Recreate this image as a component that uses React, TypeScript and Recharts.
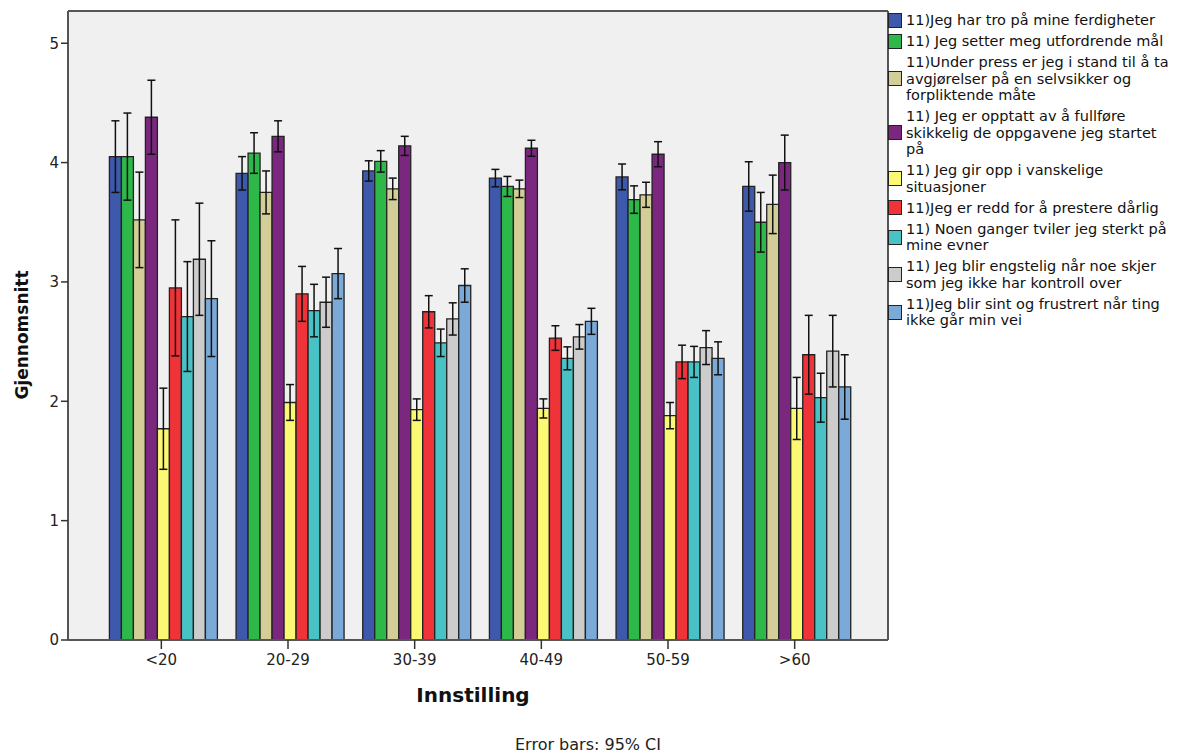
import React from "react";
import {
  BarChart,
  Bar,
  XAxis,
  YAxis,
  CartesianGrid,
  ErrorBar,
} from "recharts";

const groups = ["<20", "20-29", "30-39", "40-49", "50-59", ">60"];

const seriesNames = [
  "11)Jeg har tro på mine ferdigheter",
  "11) Jeg setter meg utfordrende mål",
  "11)Under press er jeg i stand til å ta\navgjørelser på en selvsikker og\nforpliktende måte",
  "11) Jeg er opptatt av å fullføre\nskikkelig de oppgavene jeg startet\npå",
  "11) Jeg gir opp i vanskelige\nsituasjoner",
  "11)Jeg er redd for å prestere dårlig",
  "11) Noen ganger tviler jeg sterkt på\nmine evner",
  "11) Jeg blir engstelig når noe skjer\nsom jeg ikke har kontroll over",
  "11)Jeg blir sint og frustrert når ting\nikke går min vei",
];

const colors = [
  "#3E58AC",
  "#2EB84A",
  "#D3CE98",
  "#7B277F",
  "#FBF874",
  "#EF3338",
  "#48C2C5",
  "#CCCCCC",
  "#7BAAD8",
];

// means per series, one value per age group
const troFerdigheter = [4.05, 3.91, 3.93, 3.87, 3.88, 3.8];
const utfordrendeMal = [4.05, 4.08, 4.01, 3.8, 3.69, 3.5];
const underPress = [3.52, 3.75, 3.78, 3.78, 3.73, 3.65];
const opptattFullfore = [4.38, 4.22, 4.14, 4.12, 4.07, 4.0];
const girOpp = [1.77, 1.99, 1.93, 1.94, 1.88, 1.94];
const reddPrestere = [2.95, 2.9, 2.75, 2.53, 2.33, 2.39];
const tvilerEvner = [2.71, 2.76, 2.49, 2.36, 2.33, 2.03];
const engstelig = [3.19, 2.83, 2.69, 2.54, 2.45, 2.42];
const sintFrustrert = [2.86, 3.07, 2.97, 2.67, 2.36, 2.12];

// 95% CI half widths
const ciTro = [0.3, 0.14, 0.085, 0.073, 0.108, 0.207];
const ciUtfordrende = [0.365, 0.17, 0.09, 0.084, 0.115, 0.25];
const ciPress = [0.4, 0.18, 0.09, 0.073, 0.105, 0.245];
const ciOpptatt = [0.31, 0.13, 0.08, 0.067, 0.105, 0.23];
const ciGirOpp = [0.34, 0.15, 0.09, 0.08, 0.11, 0.26];
const ciRedd = [0.57, 0.23, 0.135, 0.103, 0.14, 0.33];
const ciTviler = [0.46, 0.22, 0.115, 0.096, 0.13, 0.205];
const ciEngstelig = [0.47, 0.21, 0.135, 0.103, 0.142, 0.3];
const ciSint = [0.485, 0.21, 0.14, 0.109, 0.138, 0.27];

const yTicks = [0, 1, 2, 3, 4, 5];

const means = [
  troFerdigheter,
  utfordrendeMal,
  underPress,
  opptattFullfore,
  girOpp,
  reddPrestere,
  tvilerEvner,
  engstelig,
  sintFrustrert,
];
const cis = [
  ciTro,
  ciUtfordrende,
  ciPress,
  ciOpptatt,
  ciGirOpp,
  ciRedd,
  ciTviler,
  ciEngstelig,
  ciSint,
];

const data = groups.map((group, i) => {
  const row: Record<string, string | number> = { group };
  means.forEach((m, s) => {
    row[`s${s}`] = m[i];
    row[`e${s}`] = cis[s][i];
  });
  return row;
});

const FONT = '"DejaVu Sans", Verdana, sans-serif';

function LegendBox() {
  return (
    <div
      style={{
        position: "absolute",
        left: 888,
        top: 12,
        fontFamily: FONT,
        fontSize: 14.5,
        color: "#111",
      }}
    >
      {seriesNames.map((name, i) => (
        <div
          key={name}
          style={{
            display: "flex",
            alignItems: "center",
            marginBottom: 4.5,
          }}
        >
          <div
            style={{
              width: 12,
              height: 13,
              background: colors[i],
              border: "1px solid #222",
              marginRight: 4,
              flexShrink: 0,
            }}
          />
          <div style={{ whiteSpace: "pre", lineHeight: "16.5px" }}>{name}</div>
        </div>
      ))}
    </div>
  );
}

export default function App() {
  return (
    <div
      style={{
        position: "absolute",
        left: 0,
        top: 0,
        width: 1184,
        height: 754,
        background: "#fff",
        fontFamily: FONT,
      }}
    >
      <BarChart
        width={1184}
        height={754}
        data={data}
        margin={{ top: 11, right: 296, bottom: 84, left: 0 }}
        barCategoryGap="9%"
        barGap={0}
      >
        <CartesianGrid
          fill="#F0F0F0"
          stroke="#555"
          strokeWidth={2}
          horizontalCoordinatesGenerator={({ offset }: any) => [
            offset.top,
            offset.top + offset.height,
          ]}
          verticalCoordinatesGenerator={({ offset }: any) => [
            offset.left,
            offset.left + offset.width,
          ]}
        />
        <XAxis
          dataKey="group"
          padding={{ left: 30, right: 30 }}
          height={30}
          axisLine={{ stroke: "#555", strokeWidth: 2 }}
          tickLine={{ stroke: "#333", strokeWidth: 1.5 }}
          tickSize={9}
          tickMargin={5}
          tick={{ fontSize: 15, fill: "#222", fontFamily: FONT }}
        />
        <YAxis
          width={68}
          domain={[0, 5.27]}
          ticks={yTicks}
          allowDataOverflow
          axisLine={{ stroke: "#555", strokeWidth: 2 }}
          tickLine={{ stroke: "#333", strokeWidth: 1.5 }}
          tickSize={7}
          tickMargin={2}
          tick={{ fontSize: 15, fill: "#222", fontFamily: FONT }}
        />
        {means.map((_, s) => (
          <Bar
            key={s}
            dataKey={`s${s}`}
            fill={colors[s]}
            stroke="#222"
            strokeWidth={1.3}
            isAnimationActive={false}
          >
            <ErrorBar
              dataKey={`e${s}`}
              width={4}
              stroke="#111"
              strokeWidth={1.5}
            />
          </Bar>
        ))}
      </BarChart>
      <LegendBox />
      <div
        style={{
          position: "absolute",
          left: 22,
          top: 335,
          transform: "translate(-50%, -50%) rotate(-90deg)",
          fontWeight: "bold",
          fontSize: 17,
          whiteSpace: "nowrap",
          color: "#111",
        }}
      >
        Gjennomsnitt
      </div>
      <div
        style={{
          position: "absolute",
          left: 473,
          top: 695,
          transform: "translate(-50%, -50%)",
          fontWeight: "bold",
          fontSize: 20,
          whiteSpace: "nowrap",
          color: "#111",
        }}
      >
        Innstilling
      </div>
      <div
        style={{
          position: "absolute",
          left: 588,
          top: 744,
          transform: "translate(-50%, -50%)",
          fontSize: 16,
          whiteSpace: "nowrap",
          color: "#222",
        }}
      >
        Error bars: 95% CI
      </div>
    </div>
  );
}
